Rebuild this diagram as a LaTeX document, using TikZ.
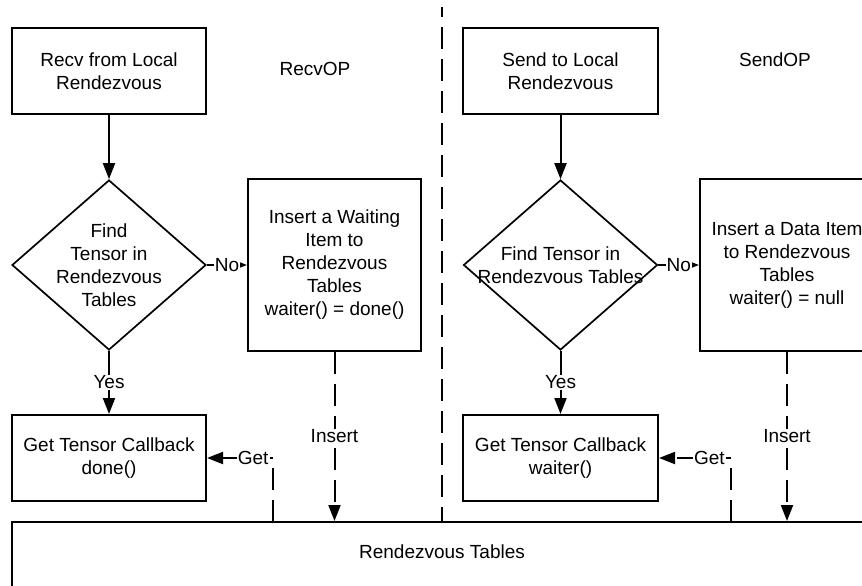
\documentclass[tikz,border=0pt]{standalone}
\usepackage{fontspec}
\setmainfont{Liberation Sans}
\usepackage{tikz}
\usetikzlibrary{positioning,shapes.geometric,arrows.meta}

\begin{document}
\begin{tikzpicture}[x=1pt, y=-1pt,
    every node/.style={font=\fontsize{19}{23}\selectfont},
    box/.style={rectangle, draw=black, line width=2pt, align=center, inner sep=0pt},
    decision/.style={diamond, draw=black, line width=1.7pt, minimum width=194pt, minimum height=170pt, inner sep=0pt},
    txt/.style={align=center, inner sep=0pt},
    lbl/.style={fill=white, inner sep=1pt},
    arrow/.style={-{Triangle[length=16pt,width=12pt]}, line width=2pt},
    dasharrow/.style={arrow, dash pattern=on 22pt off 10pt},
    divider/.style={line width=2pt, dash pattern=on 22pt off 10pt, dash phase=12pt}
]
\useasboundingbox (0,0) rectangle (862,586);
\clip (0,0) rectangle (862,586);

\node[box, minimum width=194pt, minimum height=86pt] (recv) at (109,71) {Recv from Local\\Rendezvous};
\node[txt] (recvop) at (315,69) {RecvOP};
\node[decision] (find1) at (109,265) {};
\node[txt] (find1txt) at (find1) {Find\\Tensor in\\Rendezvous\\Tables};
\node[box, minimum width=173pt, minimum height=172pt] (wait1) at (334.5,265) {Insert a Waiting\\Item to\\Rendezvous\\Tables\\waiter() = done()};
\node[box, minimum width=194pt, minimum height=86pt] (get1) at (109,458) {Get Tensor Callback\\done()};

\node[box, minimum width=195pt, minimum height=86pt] (send) at (560.5,71) {Send to Local\\Rendezvous};
\node[txt] (sendop) at (775,60) {SendOP};
\node[decision] (find2) at (560.5,265) {};
\node[txt] (find2txt) at (find2) {Find Tensor in\\Rendezvous Tables};
\node[box, minimum width=174pt, minimum height=172pt] (wait2) at (787,265) {Insert a Data Item\\to Rendezvous\\Tables\\waiter() = null};
\node[box, minimum width=195pt, minimum height=86pt] (get2) at (560.5,458) {Get Tensor Callback\\waiter()};

\node[box, minimum width=860pt, minimum height=90pt] (tables) at (442,567) {};
\node[txt] (tablestxt) at (442,552) {Rendezvous Tables};

\coordinate (divtop) at (442,7);
\coordinate (get1src) at (273,522);
\coordinate (get2src) at (731,522);

\draw[divider] (divtop) -- (divtop |- tables.north);

\draw[arrow] (recv) -- (find1);
\draw[arrow] (find1) -- node[lbl] {No} (wait1);
\draw[arrow] (find1) -- node[lbl] {Yes} (get1);
\draw[dasharrow] (wait1) -- node[lbl] {Insert} (wait1 |- tables.north);
\draw[dasharrow] (get1src) |- node[lbl, pos=0.65] {Get} (get1);

\draw[arrow] (send) -- (find2);
\draw[arrow] (find2) -- node[lbl] {No} (wait2);
\draw[arrow] (find2) -- node[lbl] {Yes} (get2);
\draw[dasharrow] (wait2) -- node[lbl] {Insert} (wait2 |- tables.north);
\draw[dasharrow] (get2src) |- node[lbl, pos=0.65] {Get} (get2);
\end{tikzpicture}
\end{document}
